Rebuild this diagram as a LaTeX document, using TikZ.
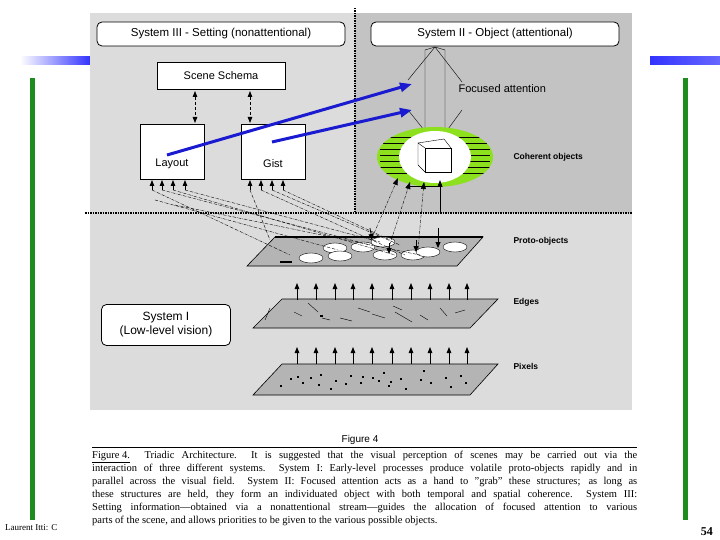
\documentclass[tikz,border=0pt]{standalone}
\usepackage{fontspec}
\setmainfont{Liberation Serif}
\newfontfamily\fsans{Liberation Sans}
\usetikzlibrary{arrows.meta,shapes.geometric}
\definecolor{pbg}{HTML}{DCDCDC}
\definecolor{pdark}{HTML}{C3C3C3}
\definecolor{plane}{HTML}{B4B4B4}
\definecolor{fblue}{HTML}{1A1AD0}
\definecolor{sgreen}{HTML}{1E8C1E}
\definecolor{lgreen}{HTML}{8CE01E}
\tikzset{
  sysbox/.style={draw,rounded corners=5pt,fill=white,font=\fsans\fontsize{11.5}{13}\selectfont,inner sep=2pt,thick},
  wbox/.style={draw,fill=white,font=\fsans\fontsize{11}{13}\selectfont},
  lbl/.style={font=\fsans\bfseries\fontsize{8.5}{10}\selectfont,anchor=west},
  up/.style={-{Triangle[length=6pt,width=4.5pt]},thick},
  thin1/.style={densely dashdotted,line width=0.4pt},
  blue/.style={-{Triangle[length=12pt,width=9pt]},line width=3pt,fblue},
  pl/.style={draw,fill=plane,line width=0.6pt}
}
\begin{document}
\begin{tikzpicture}[x=1pt,y=-1pt]
\useasboundingbox (0,0) rectangle (720,540);
\fill[white] (0,0) rectangle (720,540);
% slide decorations
\shade[left color=white,right color=blue!80] (20,57) rectangle (90,65);
\shade[left color=blue!80,right color=blue!60!white] (650,57) rectangle (720,65);
\fill[sgreen] (30,78) rectangle (35,520);
\fill[sgreen] (683,78) rectangle (688,520);
% panels
\fill[pbg] (90,13) rectangle (632,410);
\fill[pdark] (355,13) rectangle (632,213);
\draw[densely dotted,line width=1.5pt] (355,8) -- (355,213);
\draw[densely dotted,line width=1.5pt] (85,213) -- (632,213);
% titles
\node[sysbox,minimum width=248pt,minimum height=24pt] (s3) at (221,34) {System III - Setting (nonattentional)};
\node[sysbox,minimum width=248pt,minimum height=24pt] (s2) at (495,34) {System II - Object (attentional)};
% scene schema etc
\node[wbox,minimum width=128pt,minimum height=27pt] (ss) at (221,76) {Scene Schema};
\node[wbox,minimum width=64pt,minimum height=55pt] (lay) at (172,152) {};
\node[font=\fsans\fontsize{11}{13}\selectfont] (layt) at (172,164) {Layout};
\node[wbox,minimum width=64pt,minimum height=55pt] (gist) at (273,152) {};
\node[font=\fsans\fontsize{11}{13}\selectfont] (gistt) at (273,164) {Gist};
\draw[densely dashed,thick,{Triangle[length=6pt,width=4.5pt]}-{Triangle[length=6pt,width=4.5pt]}] (195,91) -- (195,123);
\draw[densely dashed,thick,{Triangle[length=6pt,width=4.5pt]}-{Triangle[length=6pt,width=4.5pt]}] (250,91) -- (250,123);
% focused attention
\draw (425,150) -- (425,50) -- (435,47) -- (445,50) -- (445,150);
\draw (435,47) -- (408,80); \draw (435,47) -- (462,82);
\draw (408,110) -- (432,140); \draw (462,110) -- (440,140);
\node[font=\fsans\fontsize{11}{13}\selectfont,anchor=west] (fa) at (455,89) {Focused attention};
% coherent
\fill[lgreen] (435,157) ellipse (58 and 30);
\begin{scope}
\clip (435,157) ellipse (58 and 30);
\foreach \yy in {137,143,149,155,161,167,173} {\draw[line width=0.8pt] (380,\yy) -- (490,\yy);}
\end{scope}
\fill[white] (435,157) ellipse (36 and 26);
\node[draw,fill=white,minimum width=26pt,minimum height=24pt,inner sep=0] (cube) at (438,160) {};
\draw (425,148) -- (418,143) -- (418,165) -- (425,172);
\draw (418,143) -- (444,139) -- (451,148);
\node[lbl] (co) at (510,157) {Coherent objects};
% blue arrows
\draw[blue] (167,155) -- (412,84);
\draw[blue] (272,142) -- (412,110);
% proto plane
\draw[pl] (275,237) -- (483,237) -- (457,266) -- (247,266) -- cycle;
\draw[line width=1.5pt] (275,237) -- (483,237);
\foreach \ex/\ey in {311/258,335/248,340/256,363/247,383/242,385/255,413/255,428/252,455/247}{\draw[fill=white] (\ex,\ey) ellipse (12 and 5);}
\draw[line width=1.5pt] (280,262) -- (292,262);
\node[lbl] (po) at (510,241) {Proto-objects};
% edges plane
\draw[pl] (282,299) -- (498,299) -- (470,328) -- (253,328) -- cycle;
\node[lbl] (ed) at (510,302) {Edges};
\foreach \a/\b/\c/\d in {265/320/270/308,294/312/302/316,322/318/330/320,340/318/352/321,358/308/370/312,372/314/385/318,393/306/402/310,395/312/412/322,420/315/428/320,440/308/447/316,455/313/465/310,308/303/318/312}{\draw (\a,\b) -- (\c,\d);}
\fill (320,315) rectangle ++(3,2);
% pixels plane
\draw[pl] (282,364) -- (498,364) -- (470,395) -- (253,395) -- cycle;
\node[lbl] (px) at (510,366) {Pixels};
\foreach \a/\b in {280/385,297/376,302/382,310/377,318/384,320/374,335/380,345/383,350/375,360/382,362/376,372/377,378/380,383/372,388/385,400/378,405/388,420/379,423/370,430/382,445/377,450/386,460/375,465/382,290/378,330/388,390/381}{\fill (\a,\b) rectangle ++(2,2);}
% arrows up edges and pixels
\foreach \xx in {297,316,335,353,372,392,411,430,449,467}{
  \draw[up] (\xx,300) -- (\xx,283);
  \draw[up] (\xx,364) -- (\xx,347);}
% system I
\node[sysbox,minimum width=129pt,minimum height=41pt,align=center,font=\fsans\fontsize{12}{14}\selectfont] (s1) at (166,325) {System I\\(Low-level vision)};
% arrows into layout and gist
\foreach \xx/\tx/\ty in {152/290/255,162/370/245,173/395/255,185/380/242}{\draw[up] (\xx,190) -- (\xx,180); \draw[thin1] (\xx,190) -- (\tx,\ty);}
\foreach \xx/\tx/\ty in {250/270/240,261/405/255,272/400/245,283/390/240}{\draw[up] (\xx,190) -- (\xx,180); \draw[thin1] (\xx,190) -- (\tx,\ty);}
\draw[thin1] (155,200) -- (338,250);
\draw[thin1] (175,205) -- (420,255);
% coherent arrows
\draw[thin1,-{Triangle[length=7pt,width=5pt]}] (372,238) -- (398,178);
\draw[thin1,-{Triangle[length=7pt,width=5pt]}] (388,250) -- (410,182);
\draw[thin1,-{Triangle[length=7pt,width=5pt]}] (418,250) -- (424,182);
\draw[thick,-{Triangle[length=7pt,width=5pt]}] (440,213) -- (440,180);
\draw[thick] (410,186) -- (440,186);
\draw[thick,-{Triangle[length=6pt,width=5pt]}] (370,228) -- (372,240);
\draw[thick,-{Triangle[length=6pt,width=5pt]}] (389,243) -- (389,254);
\draw[thick,-{Triangle[length=6pt,width=5pt]}] (416,240) -- (416,252);
\draw[thick,-{Triangle[length=6pt,width=5pt]}] (438,228) -- (438,248);
% caption
\node[font=\fsans\fontsize{10}{12}\selectfont] (f4) at (360,440) {Figure 4};
\draw[line width=0.8pt] (92,447) -- (637,447);
\node[anchor=north west,inner sep=0,text width=545pt,align=justify,font=\fontsize{10.5}{13}\selectfont] (cap) at (92,451) {\underline{Figure 4.}\ \ Triadic Architecture.\ \ It is suggested that the visual perception of scenes may be carried out via the\linebreak interaction of three different systems.\ \ System I: Early-level processes produce volatile proto-objects rapidly and in\linebreak parallel across the visual field.\ \ System II: Focused attention acts as a hand to "grab" these structures; as long as\linebreak these structures are held, they form an individuated object with both temporal and spatial coherence.\ \ System III:\linebreak Setting information---obtained via a nonattentional stream---guides the allocation of focused attention to various\linebreak parts of the scene, and allows priorities to be given to the various possible objects.};
\node[anchor=west,font=\fontsize{9}{11}\selectfont,inner sep=0] (auth) at (5,528) {Laurent Itti: C};
\node[anchor=east,font=\bfseries\fontsize{12}{14}\selectfont,inner sep=0] (pg) at (713,532) {54};
\end{tikzpicture}
\end{document}
